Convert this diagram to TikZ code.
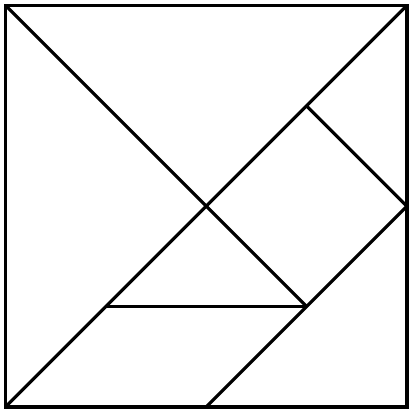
\documentclass[tikz,border=0pt]{standalone}

\begin{document}
\begin{tikzpicture}[line width=.9pt,line join=miter]
   \useasboundingbox (-0.055,-0.055) rectangle (4.09,4.055);
   \coordinate (p0) at (0,0);
   \coordinate (p1) at (4,0);
   \coordinate (p2) at (4,4);
   \coordinate (p3) at (0,4);
   \coordinate (c) at (2,2);
   \coordinate (m1) at (1,1);
   \coordinate (m3) at (3,1);
   \coordinate (q) at (3,3);
   \coordinate (r) at (4,2);
   \coordinate (b) at (2,0);

   \draw (p0) -- (p1) -- (p2) -- (p3) -- cycle;
   \draw (p0) -- (p2);
   \draw (p3) -- (c);
   \draw (c) -- (m3);
   \draw (m1) -- (m3);
   \draw (q) -- (r);
   \draw (r) -- (b);
\end{tikzpicture}
\end{document}
